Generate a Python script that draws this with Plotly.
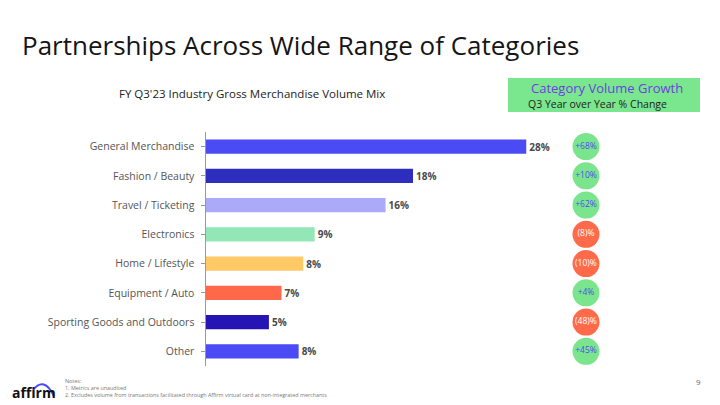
import plotly.graph_objects as go

categories = ["General Merchandise", "Fashion / Beauty", "Travel / Ticketing", "Electronics",
              "Home / Lifestyle", "Equipment / Auto", "Sporting Goods and Outdoors", "Other"]
mix_values = [28.0, 18.1, 15.7, 9.5, 8.5, 6.6, 5.5, 8.1]
mix_labels = ["28%", "18%", "16%", "9%", "8%", "7%", "5%", "8%"]
bar_colors = ["#4B4BF5", "#2E2EBE", "#AAAAF8", "#93E6B5", "#FFC966", "#FF6848", "#2614B4", "#4B4BF5"]
growth_values = [68, 10, 62, -8, -10, 4, -48, 45]
growth_labels = ["+68%", "+10%", "+62%", "(8)%", "(10)%", "+4%", "(48)%", "+45%"]

FONT = "Open Sans"
fig = go.Figure()

fig.add_trace(go.Bar(
    y=categories, x=mix_values, orientation="h",
    marker=dict(color=bar_colors, line=dict(width=0)),
    width=0.48,
    text=["<b>%s</b>" % t for t in mix_labels], textposition="outside",
    textfont=dict(family=FONT, size=10, color="#4A4A4A"),
    cliponaxis=False, hoverinfo="skip",
))

circle_colors = ["#7BE58D" if v >= 0 else "#FF6A4A" for v in growth_values]
circle_text_colors = ["#4B4BF5" if v >= 0 else "#FFFFFF" for v in growth_values]
fig.add_trace(go.Scatter(
    y=categories, x=[0.5] * len(categories), xaxis="x2", yaxis="y",
    mode="markers+text",
    marker=dict(size=27, color=circle_colors, line=dict(width=0)),
    text=growth_labels, textposition="middle center",
    textfont=dict(family=FONT, size=8.5, color=circle_text_colors),
    cliponaxis=False, hoverinfo="skip",
))

fig.update_layout(
    width=720, height=405,
    margin=dict(l=0, r=0, t=0, b=0),
    paper_bgcolor="white", plot_bgcolor="white",
    showlegend=False,
    font=dict(family=FONT, color="#555555"),
    xaxis=dict(domain=[206 / 720, 572 / 720], range=[0, 32], visible=False, fixedrange=True),
    xaxis2=dict(domain=[570 / 720, 602 / 720], range=[0, 1], visible=False, anchor="y"),
    yaxis=dict(domain=[39 / 405, 273 / 405], range=[7.5, -0.5], autorange=False,
               showline=True, linecolor="#999999", linewidth=1.5,
               ticks="outside", ticklen=4, tickcolor="#999999",
               tickfont=dict(family=FONT, size=10.5, color="#555555"),
               showgrid=False, zeroline=False, ticklabelstandoff=4),
    bargap=0.5,
)

# Title
fig.add_annotation(text="Partnerships Across Wide Range of Categories", x=20 / 720, y=1 - 45 / 405,
                   xref="paper", yref="paper", xanchor="left", yanchor="middle", showarrow=False,
                   font=dict(family=FONT, size=26, color="#151515"))
fig.add_annotation(text="FY Q3'23 Industry Gross Merchandise Volume Mix", x=117 / 720, y=1 - 93 / 405,
                   xref="paper", yref="paper", xanchor="left", yanchor="middle", showarrow=False,
                   font=dict(family=FONT, size=11.5, color="#222222"))

# Header box
fig.add_shape(type="rect", xref="paper", yref="paper", x0=508 / 720, x1=700 / 720,
              y0=1 - 112 / 405, y1=1 - 78 / 405, fillcolor="#7AE68E", line=dict(width=0), layer="below")
fig.add_annotation(text="Category Volume Growth", x=607 / 720, y=1 - 88 / 405, xref="paper", yref="paper",
                   xanchor="center", yanchor="middle", showarrow=False,
                   font=dict(family=FONT, size=13, color="#6B3FE0"))
fig.add_annotation(text="Q3 Year over Year % Change", x=597 / 720, y=1 - 104 / 405, xref="paper", yref="paper",
                   xanchor="center", yanchor="middle", showarrow=False,
                   font=dict(family=FONT, size=10.5, color="#222222"))

# Notes
notes = ["Notes:", "1. Metrics are unaudited",
         "2. Excludes volume from transactions facilitated through Affirm virtual card at non-integrated merchants"]
for i, n in enumerate(notes):
    fig.add_annotation(text=n, x=63 / 720, y=1 - (381 + i * 7) / 405, xref="paper", yref="paper",
                       xanchor="left", yanchor="middle", showarrow=False,
                       font=dict(family=FONT, size=5.4, color="#777777"))

# Page number
fig.add_annotation(text="9", x=703 / 720, y=1 - 381 / 405, xref="paper", yref="paper",
                   xanchor="right", yanchor="middle", showarrow=False,
                   font=dict(family=FONT, size=8, color="#666666"))

# Logo
fig.add_annotation(text="<b>affirm</b>", x=10 / 720, y=1 - 392 / 405, xref="paper", yref="paper",
                   xanchor="left", yanchor="middle", showarrow=False,
                   font=dict(family=FONT, size=14, color="#111111"))
fig.add_shape(type="path", xref="paper", yref="paper",
              path="M %f %f Q %f %f %f %f" % (33 / 720, 1 - 390 / 405, 44 / 720, 1 - 376 / 405, 54 / 720, 1 - 396 / 405),
              line=dict(color="#4A4AF4", width=2))

fig.write_html("out.html", config={"displayModeBar": False, "staticPlot": True},
               post_script="document.body.style.margin='0';document.body.style.overflow='hidden';")
